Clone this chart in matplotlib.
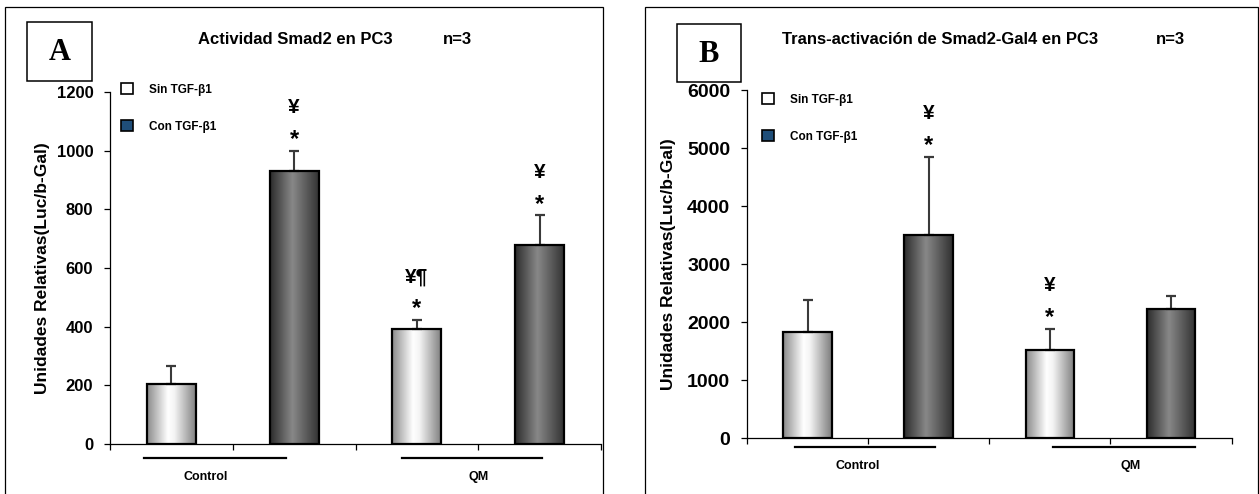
import numpy as np
import matplotlib
matplotlib.use("Agg")
import matplotlib.pyplot as plt
from matplotlib.patches import Rectangle, Patch
from matplotlib.colors import LinearSegmentedColormap

plt.rcParams['font.family'] = ['Liberation Sans', 'DejaVu Sans']

# ---------------- data ----------------
groups = ['Control', 'QM']
series = ['Sin TGF-β1', 'Con TGF-β1']

a_title = 'Actividad Smad2 en PC3'
a_sin = [205, 393]
a_sin_err = [62, 30]
a_con = [930, 680]
a_con_err = [70, 100]
a_sin_marks = ['', '¥¶']
a_con_marks = ['¥', '¥']
a_yticks = [0, 200, 400, 600, 800, 1000, 1200]

b_title = 'Trans-activación de Smad2-Gal4 en PC3'
b_sin = [1820, 1525]
b_sin_err = [560, 360]
b_con = [3500, 2230]
b_con_err = [1350, 210]
b_sin_marks = ['', '¥']
b_con_marks = ['¥', '']
b_yticks = [0, 1000, 2000, 3000, 4000, 5000, 6000]

ylabel = 'Unidades Relativas(Luc/b-Gal)'
n_text = 'n=3'

# ---------------- layout helpers ----------------
W, H = 1259, 494
fig = plt.figure(figsize=(W / 100, H / 100), dpi=100)


def fx(px):
    return px / W


def fy(py):
    return 1 - py / H


sin_cmap = LinearSegmentedColormap.from_list(
    'sin', [(0, '#8a8a8a'), (0.42, '#ffffff'), (0.55, '#f4f4f4'), (1, '#7c7c7c')])
con_cmap = LinearSegmentedColormap.from_list(
    'con', [(0, '#2c2c2c'), (0.45, '#888888'), (1, '#303030')])
grad = np.linspace(0, 1, 256).reshape(1, -1)


def panel(ax_rect, sin, sin_err, con, con_err, sin_marks, con_marks, yticks,
          tick_fs, lab_x, grp_lines, grp_line_y, grp_lab_x, grp_lab_y):
    ax = fig.add_axes(ax_rect)
    n = len(groups)
    x_sin = np.arange(n) * 2
    x_con = np.arange(n) * 2 + 1
    bw = 0.4
    for xs, vals, errs, cmap, marks in [(x_sin, sin, sin_err, sin_cmap, sin_marks),
                                        (x_con, con, con_err, con_cmap, con_marks)]:
        bars = ax.bar(xs, vals, width=bw, facecolor='none', edgecolor='black',
                      linewidth=1.6, zorder=3)
        for rect in bars:
            x0, w, h = rect.get_x(), rect.get_width(), rect.get_height()
            im = ax.imshow(grad, extent=[x0, x0 + w, 0, h], aspect='auto',
                           cmap=cmap, interpolation='bicubic', zorder=2)
            im.set_clip_path(rect)
        ax.errorbar(xs, vals, yerr=[np.zeros(n), errs], fmt='none',
                    ecolor='#3a3a3a', elinewidth=1.5, capsize=3.5,
                    capthick=1.6, zorder=2.5)
        for xi, v, e, m in zip(xs, vals, errs, marks):
            if m:
                ax.annotate('*', xy=(xi, v + e), xytext=(0, 11),
                            textcoords='offset pixels', ha='center',
                            va='center', fontsize=17, fontweight='bold')
                ax.annotate(m, xy=(xi, v + e), xytext=(0, 43),
                            textcoords='offset pixels', ha='center',
                            va='center', fontsize=15, fontweight='bold')
    ax.set_xlim(-0.5, 2 * n - 0.5)
    ax.set_ylim(yticks[0], yticks[-1])
    ax.set_yticks(yticks)
    ax.set_xticks(np.arange(2 * n + 1) - 0.5)
    ax.set_xticklabels([])
    for s in ['top', 'right']:
        ax.spines[s].set_visible(False)
    for s in ['left', 'bottom']:
        ax.spines[s].set_linewidth(0.9)
    ax.tick_params(axis='y', direction='out', length=4, width=0.9, pad=8,
                   labelsize=tick_fs)
    ax.tick_params(axis='x', direction='out', length=4, width=0.9)
    for t in ax.get_yticklabels():
        t.set_fontweight('bold')
    ax.set_ylabel(ylabel, fontsize=12.5, fontweight='bold')
    ax.yaxis.set_label_coords(lab_x, 0.5)
    ax.yaxis.label.set_verticalalignment('center')
    tr = matplotlib.transforms.blended_transform_factory(ax.transData, fig.transFigure)
    for (l0, l1), g, gx in zip(grp_lines, groups, grp_lab_x):
        ax.plot([l0, l1], [fy(grp_line_y)] * 2, color='black', lw=1.6,
                transform=tr, clip_on=False)
        ax.text(gx, fy(grp_lab_y), g, transform=tr, ha='center', va='center',
                fontsize=9, fontweight='bold')
    return ax


# Panel A
axA = panel([fx(110), fy(444), (601 - 110) / W, (444 - 92) / H],
            a_sin, a_sin_err, a_con, a_con_err, a_sin_marks, a_con_marks,
            a_yticks, 12, -0.138, [(-0.22, 0.93), (1.88, 3.02)], 458,
            [0.28, 2.5], 477)
# Panel B
axB = panel([fx(747), fy(438), (1231.5 - 747) / W, (438 - 90) / H],
            b_sin, b_sin_err, b_con, b_con_err, b_sin_marks, b_con_marks,
            b_yticks, 14, -0.161, [(-0.10, 1.05), (2.03, 3.2)], 447,
            [0.41, 2.67], 466)

# frames
for x0, x1 in [(5, 603), (645, 1258)]:
    fig.patches.append(Rectangle((fx(x0), fy(520)), fx(x1) - fx(x0), fy(7) - fy(520),
                                 transform=fig.transFigure, fill=False,
                                 edgecolor='black', linewidth=0.9))

# letter boxes
for (x0, y0, x1, y1), letter in [((27, 22, 92, 81), 'A'), ((677, 24, 741, 82), 'B')]:
    fig.patches.append(Rectangle((fx(x0), fy(y1)), fx(x1) - fx(x0), fy(y0) - fy(y1),
                                 transform=fig.transFigure, fill=False,
                                 edgecolor='black', linewidth=1.1))
    fig.text(fx((x0 + x1) / 2), fy((y0 + y1) / 2 + 1), letter, ha='center', va='center',
             fontsize=22, fontweight='bold', family=['Liberation Serif', 'DejaVu Serif'])

# titles
fig.text(fx(198), fy(40), a_title, ha='left', va='center', fontsize=12, fontweight='bold')
fig.text(fx(457), fy(40), n_text, ha='center', va='center', fontsize=12, fontweight='bold')
fig.text(fx(782), fy(40), b_title, ha='left', va='center', fontsize=12, fontweight='bold')
fig.text(fx(1170), fy(40), n_text, ha='center', va='center', fontsize=12, fontweight='bold')

# legends
handles = [Patch(facecolor='white', edgecolor='black', linewidth=1.2),
           Patch(facecolor='#1f4e79', edgecolor='black', linewidth=1.2)]
for ax, (lx, ly) in [(axA, (121, 83)), (axB, (762, 93))]:
    leg = ax.legend(handles, series, loc='upper left',
                    bbox_to_anchor=(fx(lx), fy(ly)), bbox_transform=fig.transFigure,
                    frameon=False, borderpad=0, borderaxespad=0,
                    handlelength=1.05, handleheight=1.05, handletextpad=1.3,
                    labelspacing=2.1, prop={'size': 8.5, 'weight': 'bold'})

fig.savefig('out.png', dpi=100)
